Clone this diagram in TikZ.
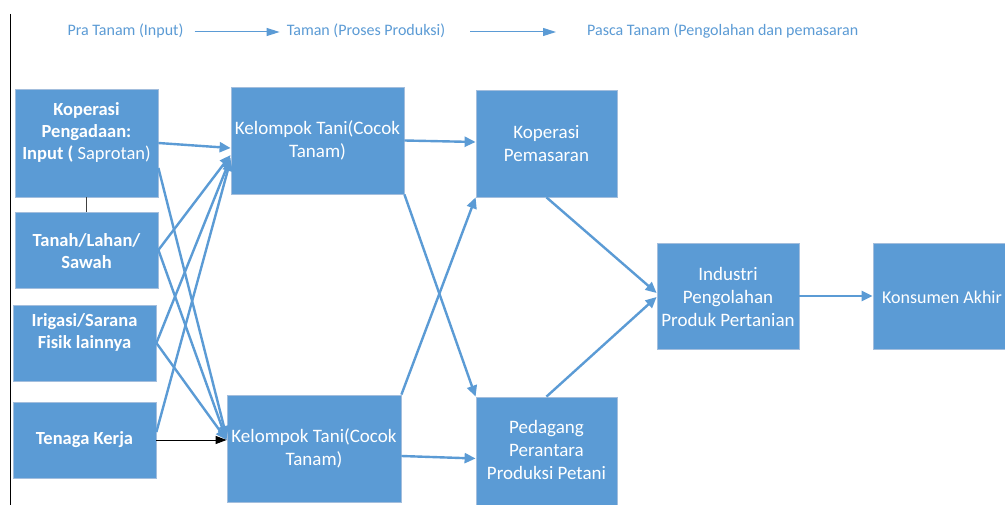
\documentclass[tikz,border=0pt]{standalone}
\usepackage{fontspec}
\setmainfont{Carlito}
\usetikzlibrary{arrows.meta,calc}
\definecolor{obl}{HTML}{5B9BD5}
\definecolor{obd}{HTML}{A3BEDD}
\begin{document}
\begin{tikzpicture}[x=1pt,y=-1pt,
  box/.style={draw=obd, line width=0.8pt, fill=obl, inner sep=0pt},
  btxt/.style={text=white, align=center, font=\fontsize{19}{23}\selectfont, inner sep=0pt},
  ltxt/.style={text=white, align=center, font=\fontsize{18.5}{22}\selectfont\bfseries, inner sep=0pt},
  conn/.style={draw=obl, line width=2.4pt, -{Triangle[length=11pt,width=10pt]}},
  blk/.style={draw=black, line width=1pt, -{Triangle[length=11pt,width=8pt]}},
  htxt/.style={text=obl, font=\fontsize{16}{19}\selectfont, inner sep=0pt},
  harr/.style={draw=obl, line width=1pt, -{Triangle[length=13pt,width=8pt]}}
]
\clip (0,0) rectangle (1005,505);
\fill[white] (0,0) rectangle (1005,505);
% left rule
\draw[black, line width=1pt] (10,14) -- (10,505);
% header
\node[htxt] (h1) at (125.5,31) {Pra Tanam (Input)};
\node[htxt] (h2) at (366,31) {Taman (Proses Produksi)};
\node[htxt, anchor=west] (h3) at (587,31) {Pasca Tanam (Pengolahan dan pemasaran};
\draw[harr] ([xshift=11pt,yshift=-1pt]h1.east) -- ([xshift=-7pt,yshift=-1pt]h2.west);
\draw[harr] ([xshift=25pt,yshift=-1pt]h2.east) -- ([xshift=-31pt,yshift=-1pt]h3.west);
% boxes
\node[box, minimum width=143pt, minimum height=108pt] (kp) at (86.5,143) {};
\node[box, minimum width=143pt, minimum height=76pt] (tanah) at (86.5,250) {};
\node[box, minimum width=143pt, minimum height=76pt] (irig) at (84.5,343) {};
\node[box, minimum width=143pt, minimum height=76pt] (tenaga) at (84.5,440) {};
\node[box, minimum width=173pt, minimum height=107pt] (kt1) at (317.5,140.5) {};
\node[box, minimum width=174pt, minimum height=107pt] (kt2) at (314,448.5) {};
\node[box, minimum width=141pt, minimum height=107pt] (pem) at (546.5,143.5) {};
\node[box, minimum width=141pt, minimum height=113pt] (ped) at (546.5,453.5) {};
\node[box, minimum width=142pt, minimum height=106pt] (ind) at (728,296) {};
\node[box, minimum width=147pt, minimum height=106pt] (kons) at (946.5,296) {};
% texts
\node[ltxt] (tkp) at ($(kp.center)+(0,-10)$) {Koperasi\\Pengadaan:\\Input ( \mdseries Saprotan)};
\node[ltxt] (ttanah) at ($(tanah.center)+(0,1)$) {Tanah/Lahan/\\Sawah};
\node[ltxt] (tirig) at ($(irig.center)+(0,-10.5)$) {Irigasi/Sarana\\Fisik lainnya};
\node[ltxt] (ttenaga) at (tenaga.center) {Tenaga Kerja};
\node[btxt] (tkt1) at (kt1.center) {Kelompok Tani(Cocok\\Tanam)};
\node[btxt] (tkt2) at (kt2.center) {Kelompok Tani(Cocok\\Tanam)};
\node[btxt] (tpem) at ($(pem.center)+(0,0.5)$) {Koperasi\\Pemasaran};
\node[btxt] (tped) at ($(ped.center)+(0,-3.5)$) {Pedagang\\Perantara\\Produksi Petani};
\node[btxt] (tind) at ($(ind.center)+(0,1)$) {Industri\\Pengolahan\\Produk Pertanian};
\node[btxt, font=\fontsize{18}{22}\selectfont, anchor=east] (tkons) at ($(kons.west)+(129.5,1)$) {Konsumen Akhir};
% connectors
\draw[black!75, line width=1pt] (kp.south) -- (tanah.north);
\draw[conn] (kp.east) -- ([yshift=-7.5pt]kt1.west);
\draw[conn] ([yshift=-25pt]kp.east) -- ([yshift=11.5pt]kt2.west);
\draw[conn] (tanah.east) -- ([yshift=-14.5pt]kt1.west);
\draw[conn] (tanah.east) -- ([yshift=8.5pt]kt2.west);
\draw[conn] (irig.east) -- ([yshift=-17.5pt]kt1.west);
\draw[conn] (irig.east) -- ([yshift=8.5pt]kt2.west);
\draw[conn] ([yshift=8pt]tenaga.east) -- ([yshift=-19.5pt]kt1.west);
\draw[blk] (tenaga.east) -- ([yshift=8.5pt]kt2.west);
\draw[conn] (kt1.east) -- ([yshift=1.5pt]pem.west);
\draw[conn] (kt1.south east) -- (ped.north west);
\draw[conn] (kt2.north east) -- (pem.south west);
\draw[conn] ([yshift=-7.5pt]kt2.east) -- ([yshift=-5pt]ped.west);
\draw[conn] (pem.south) -- ([yshift=3pt]ind.west);
\draw[conn] (ped.north) -- ([yshift=-1pt]ind.west);
\draw[conn] (ind.east) -- (kons.west);
\end{tikzpicture}
\end{document}
